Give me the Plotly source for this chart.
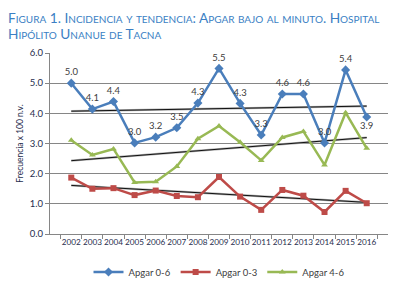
import plotly.graph_objects as go
import numpy as np

years = ["2002","2003","2004","2005","2006","2007","2008","2009","2010","2011","2012","2013","2014","2015","2016"]
apgar_0_6 = [5.0, 4.14, 4.39, 3.02, 3.21, 3.52, 4.34, 5.49, 4.33, 3.28, 4.64, 4.64, 3.02, 5.44, 3.88]
apgar_0_3 = [1.87, 1.50, 1.52, 1.29, 1.44, 1.26, 1.22, 1.89, 1.24, 0.80, 1.46, 1.27, 0.73, 1.43, 1.02]
apgar_4_6 = [3.11, 2.62, 2.82, 1.71, 1.73, 2.24, 3.16, 3.58, 3.04, 2.44, 3.20, 3.40, 2.29, 4.02, 2.84]
label_pos = ["top center"]*14 + ["bottom center"]
title_lines = ["Figura 1. Incidencia y tendencia: Apgar bajo al minuto. Hospital",
               "Hipólito Unanue de Tacna"]

FONT = "Lato"
TXT = "#404040"
AX = "#1f2d4d"
# page body has an 8px margin; size the figure to fit the 401x286 window
W, H = 393, 278
ML, MR, MT, MB = 42, 13, 45, 52
PH = H - MT - MB
PW = W - ML - MR

fig = go.Figure()

idx = np.arange(len(years))
for vals in [apgar_0_6, apgar_0_3, apgar_4_6]:
    m, b = np.polyfit(idx, vals, 1)
    trend = m * idx + b
    fig.add_trace(go.Scatter(x=years, y=trend, mode="lines", line=dict(color="#b0b0b0", width=2.2),
                             showlegend=False, hoverinfo="skip"))
    fig.add_trace(go.Scatter(x=years, y=trend, mode="lines", line=dict(color="black", width=0.9),
                             showlegend=False, hoverinfo="skip"))

fig.add_trace(go.Scatter(x=years, y=apgar_0_6, name="Apgar 0-6", mode="lines+markers+text",
                         line=dict(color="#4a7ebb", width=2.5),
                         marker=dict(symbol="diamond", size=7, color="#4a7ebb"),
                         texttemplate="%{y:.1f}", textposition=label_pos,
                         textfont=dict(family=FONT, size=9.5, color=TXT)))
fig.add_trace(go.Scatter(x=years, y=apgar_0_3, name="Apgar 0-3", mode="lines+markers",
                         line=dict(color="#be4b48", width=2.5),
                         marker=dict(symbol="square", size=6, color="#be4b48")))
fig.add_trace(go.Scatter(x=years, y=apgar_4_6, name="Apgar 4-6", mode="lines+markers",
                         line=dict(color="#98b954", width=2.5),
                         marker=dict(symbol="triangle-up", size=6, color="#98b954")))

for i, line in enumerate(title_lines):
    fig.add_annotation(text=line, xref="paper", yref="paper", x=(-2 - ML) / PW, xanchor="left",
                       y=1.0 + (MT - 10 - 16 * i) / PH, yanchor="middle", showarrow=False,
                       font=dict(family=FONT, size=13.7, color="#3b7fc4", variant="small-caps"))

fig.update_layout(
    width=W, height=H,
    margin=dict(l=ML, r=MR, t=MT, b=MB, autoexpand=False),
    paper_bgcolor="white", plot_bgcolor="white",
    font=dict(family=FONT, size=9, color=TXT),
    legend=dict(orientation="h", x=0.5, xanchor="center", y=-38 / PH, yanchor="middle",
                font=dict(family=FONT, size=9.5, color=TXT), itemwidth=30),
    showlegend=True,
)
fig.update_xaxes(type="category", showline=True, linecolor="#868686", linewidth=1,
                 ticks="outside", ticklen=4, tickcolor="#868686", tickson="boundaries",
                 showgrid=False, tickangle=0, tickfont=dict(family=FONT, size=8.2, color=AX))
fig.update_yaxes(range=[0, 6], dtick=1, tickformat=".1f", showline=True, linecolor="#868686",
                 linewidth=1, ticks="outside", ticklen=4, tickcolor="#868686",
                 showgrid=True, gridcolor="#868686", gridwidth=1, zeroline=False,
                 title=dict(text="Frecuencia x 100 n.v.", font=dict(size=8.5, color=AX), standoff=4),
                 tickfont=dict(size=9.5, color=AX))

fig.write_html("out.html")
